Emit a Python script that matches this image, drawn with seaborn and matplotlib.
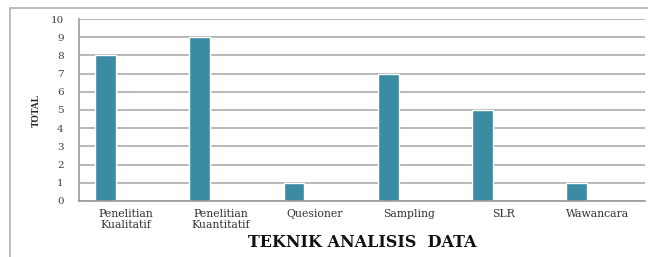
import matplotlib
matplotlib.use("Agg")
import matplotlib.pyplot as plt
import seaborn as sns
import pandas as pd
from matplotlib.patches import Rectangle

# data
categories = ["Penelitian\nKualitatif", "Penelitian\nKuantitatif", "Quesioner",
              "Sampling", "SLR", "Wawancara"]
totals = [8, 9, 1, 7, 5, 1]
series = ["TOTAL", "kosong"]  # the second (empty) series gives the off-centre bar

df = pd.DataFrame({
    "teknik": categories * 2,
    "nilai": totals + [float("nan")] * len(totals),
    "seri": [series[0]] * len(categories) + [series[1]] * len(categories),
})

sns.set_style("white")
plt.rcParams["font.family"] = ["DejaVu Serif", "Liberation Serif"]

fig = plt.figure(figsize=(6.48, 2.57), dpi=100)
ax = fig.add_axes([0.1219, 0.218, 0.873, 0.708])

sns.barplot(data=df, x="teknik", y="nilai", hue="seri", hue_order=series,
            order=categories, palette=["#3B8BA2", "#3B8BA2"], width=0.88,
            gap=0.5, legend=False, ax=ax, saturation=1)

ax.set_ylim(0, 10)
ax.set_xlim(-0.5, len(categories) - 0.5)
ax.set_yticks(range(0, 11))
ax.yaxis.grid(True, color="#ababab", linewidth=1.2)
ax.set_axisbelow(True)

for side in ["top", "right"]:
    ax.spines[side].set_visible(False)
for side in ["left", "bottom"]:
    ax.spines[side].set_color("#9a9a9a")
    ax.spines[side].set_linewidth(1.2)

ax.tick_params(axis="y", which="major", direction="out", length=3, width=1,
               color="#9a9a9a", labelsize=7.5, labelcolor="#404040", pad=8)
ax.tick_params(axis="x", length=0, labelsize=7.8, labelcolor="#303030", pad=6)
for lbl in ax.get_xticklabels():
    lbl.set_linespacing(1.05)

ax.set_ylabel("TOTAL", fontsize=7, fontweight="bold", labelpad=7,
              family="Liberation Serif")
ax.set_xlabel("TEKNIK ANALISIS  DATA", fontsize=11.5, fontweight="bold",
              labelpad=3, color="#111111")

# outer border of the original figure box
fig.patches.append(Rectangle((10 / 648, -0.2), 1.2, 1 - 8 / 257 + 0.2,
                             transform=fig.transFigure, fill=False,
                             edgecolor="#b0b0b0", linewidth=1.2))

fig.savefig("out.png", dpi=100)
